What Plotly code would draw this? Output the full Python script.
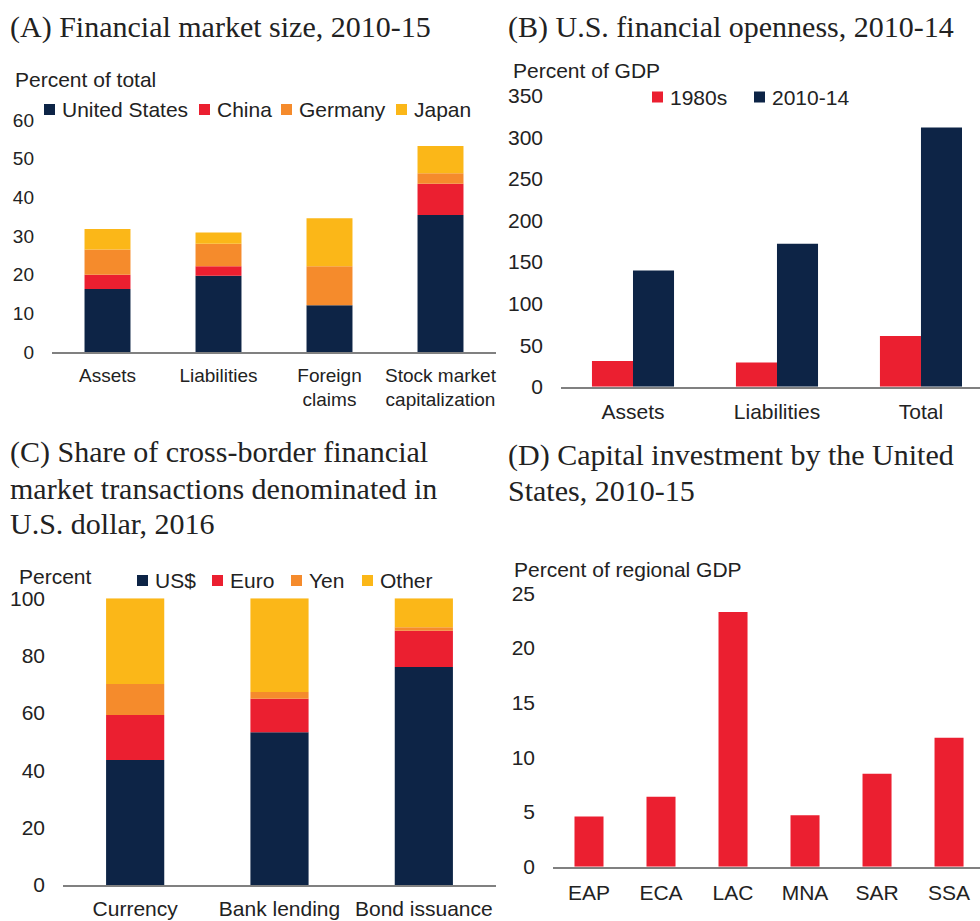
import numpy as np
import plotly.graph_objects as go

# ---- data ----
a_categories = ["Assets", "Liabilities", "Foreign<br>claims", "Stock market<br>capitalization"]
a_us = [16.3, 19.7, 12.1, 35.4]
a_china = [3.7, 2.5, 0.0, 8.1]
a_germany = [6.5, 5.8, 10.1, 2.7]
a_japan = [5.3, 2.9, 12.4, 7.1]

b_categories = ["Assets", "Liabilities", "Total"]
b_1980s = [31, 29, 61]
b_2010_14 = [140, 172, 312]

c_categories = ["Currency", "Bank lending", "Bond issuance"]
c_usd = [43.6, 53.3, 76.0]
c_euro = [15.7, 11.7, 12.7]
c_yen = [10.8, 2.3, 1.2]
c_other = [29.9, 32.7, 10.1]

d_categories = ["EAP", "ECA", "LAC", "MNA", "SAR", "SSA"]
d_values = [4.6, 6.4, 23.3, 4.7, 8.5, 11.8]

NAVY = "#0d2446"
RED = "#eb1f30"
ORANGE = "#f58b2c"
YELLOW = "#fbb718"
TXT = "#222222"
SANS = "Liberation Sans, Arial, sans-serif"
SERIF = "Liberation Serif, Times New Roman, serif"

W, H = 980, 921


def fx(p):
    return p / W


def fy(p):
    return 1 - p / H


fig = go.Figure()


def add_stack(cats, series, colors, xa, ya, width):
    base = np.zeros(len(cats))
    for vals, col in zip(series, colors):
        vals = np.array(vals, dtype=float)
        fig.add_trace(go.Bar(x=cats, y=vals, base=base.copy(), width=width,
                             marker=dict(color=col, line_width=0),
                             xaxis=xa, yaxis=ya, showlegend=False))
        base = base + vals


# (A)
add_stack(a_categories, [a_us, a_china, a_germany, a_japan],
          [NAVY, RED, ORANGE, YELLOW], "x", "y", 0.414)
# (B)
fig.add_trace(go.Bar(x=b_categories, y=b_1980s, width=0.285, offset=-0.285,
                     marker=dict(color=RED, line_width=0), xaxis="x2", yaxis="y2", showlegend=False))
fig.add_trace(go.Bar(x=b_categories, y=b_2010_14, width=0.285, offset=0,
                     marker=dict(color=NAVY, line_width=0), xaxis="x2", yaxis="y2", showlegend=False))
# (C)
add_stack(c_categories, [c_usd, c_euro, c_yen, c_other],
          [NAVY, RED, ORANGE, YELLOW], "x3", "y3", 0.403)
# (D)
fig.add_trace(go.Bar(x=d_categories, y=d_values, width=0.403,
                     marker=dict(color=RED, line_width=0), xaxis="x4", yaxis="y4", showlegend=False))


def xaxis(dom, rng, size, standoff):
    return dict(domain=[fx(dom[0]), fx(dom[1])], range=rng, type="category",
                showline=True, linecolor="#808080", linewidth=1.5,
                showgrid=False, zeroline=False, ticks="", automargin=False,
                ticklabelstandoff=standoff,
                tickfont=dict(family=SANS, size=size, color=TXT))


def yaxis(dom, rng, dtick, size, anchor):
    return dict(domain=[fy(dom[1]), fy(dom[0])], range=rng, dtick=dtick,
                showline=False, showgrid=False, zeroline=False, ticks="",
                ticklabelstandoff=17, anchor=anchor, automargin=False,
                tickfont=dict(family=SANS, size=size, color=TXT))


fig.update_layout(
    width=W, height=H, barmode="overlay",
    margin=dict(l=0, r=0, t=0, b=0, autoexpand=False),
    paper_bgcolor="white", plot_bgcolor="white",
    xaxis=dict(xaxis((52, 496), [-0.5, 3.5], 19, 5), anchor="y"),
    yaxis=yaxis((120, 352), [0, 60], 10, 19, "x"),
    xaxis2=dict(xaxis((561, 980), [-0.5, 2.41], 21, 5), anchor="y2"),
    yaxis2=yaxis((96, 386.7), [0, 350], 50, 21, "x2"),
    xaxis3=dict(xaxis((63, 496), [-0.5, 2.5], 21, 4), anchor="y3"),
    yaxis3=yaxis((598.3, 885), [0, 100], 20, 21, "x3"),
    xaxis4=dict(xaxis((553, 980), [-0.5, 5.43], 21, 6), anchor="y4"),
    yaxis4=yaxis((593.3, 866.7), [0, 25], 5, 21, "x4"),
)


def text(x, y, s, family=SANS, size=21):
    fig.add_annotation(x=fx(x), y=fy(y), xref="paper", yref="paper", text=s,
                       showarrow=False, xanchor="left", yanchor="middle",
                       font=dict(family=family, size=size, color=TXT))


# titles
text(8, 27, "(A) Financial market size, 2010-15", SERIF, 30)
text(506, 27, "(B) U.S. financial openness, 2010-14", SERIF, 30)
text(8, 452, "(C) Share of cross-border financial", SERIF, 30)
text(8, 488, "market transactions denominated in", SERIF, 30)
text(8, 523, "U.S. dollar, 2016", SERIF, 30)
text(506, 455, "(D) Capital investment by the United", SERIF, 30)
text(506, 490, "States, 2010-15", SERIF, 30)

# axis unit labels
text(13, 79, "Percent of total")
text(511, 70, "Percent of GDP")
text(17, 576, "Percent")
text(512, 569, "Percent of regional GDP")


# legends (square + label)
def legend_item(x, y, label, color):
    fig.add_shape(type="rect", xref="paper", yref="paper",
                  x0=fx(x), x1=fx(x + 11), y0=fy(y + 5.5), y1=fy(y - 5.5),
                  fillcolor=color, line_width=0)
    text(x + 16, y, label)


legend_item(44, 109.5, "United States", NAVY)
legend_item(199, 109.5, "China", RED)
legend_item(281, 109.5, "Germany", ORANGE)
legend_item(396, 109.5, "Japan", YELLOW)

legend_item(652, 97, "1980s", RED)
legend_item(754, 97, "2010-14", NAVY)

legend_item(137, 580.5, "US$", NAVY)
legend_item(212, 580.5, "Euro", RED)
legend_item(291, 580.5, "Yen", ORANGE)
legend_item(362, 580.5, "Other", YELLOW)

fig.write_html("out.html", config={"displayModeBar": False},
               post_script="document.body.style.margin='0';")
